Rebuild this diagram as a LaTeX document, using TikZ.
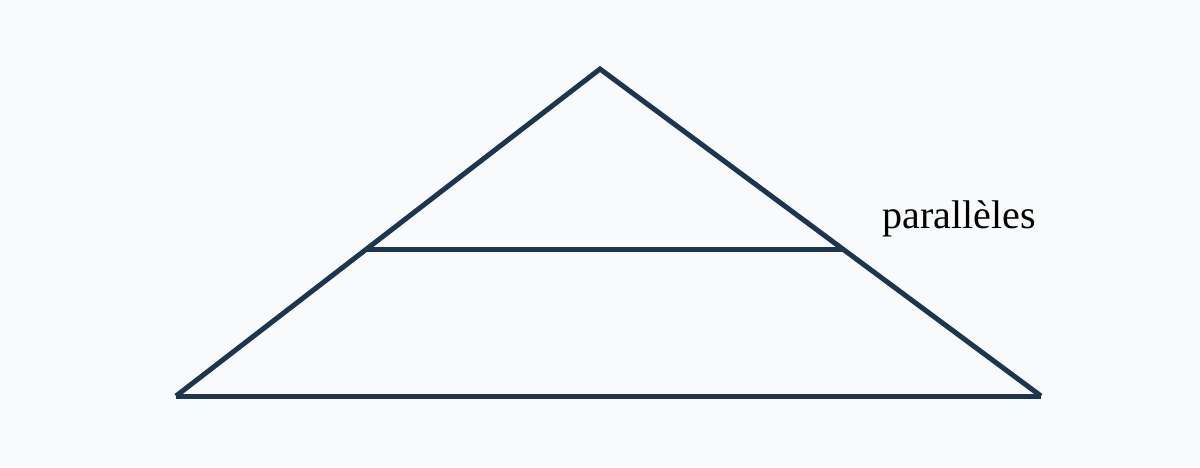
\documentclass[tikz,border=0pt]{standalone}
\usepackage{fontspec}
\setmainfont{Liberation Serif}
\definecolor{bgc}{HTML}{F8FAFC}
\definecolor{navy}{HTML}{1E3550}
\begin{document}
\begin{tikzpicture}[x=1pt,y=-1pt,
  edge/.style={draw=navy,line width=5pt,line join=miter},
  lbl/.style={font=\fontsize{40}{48}\selectfont,text=black,inner sep=0pt,anchor=base}]
\fill[bgc] (0,0) rectangle (1200,467);
\useasboundingbox (0,0) rectangle (1200,467);
\coordinate (A) at (600,69);
\coordinate (B) at (176,396);
\coordinate (C) at (1041,396);
\coordinate (M1) at (366,249);
\coordinate (M2) at (844,249);
\path[edge] (B) -- (A) -- (C);
\path[edge] (B) -- (C);
\path[edge] (M1) -- (M2);
\node[lbl] (t) at (959.5,228) {parallèles};
\end{tikzpicture}
\end{document}
